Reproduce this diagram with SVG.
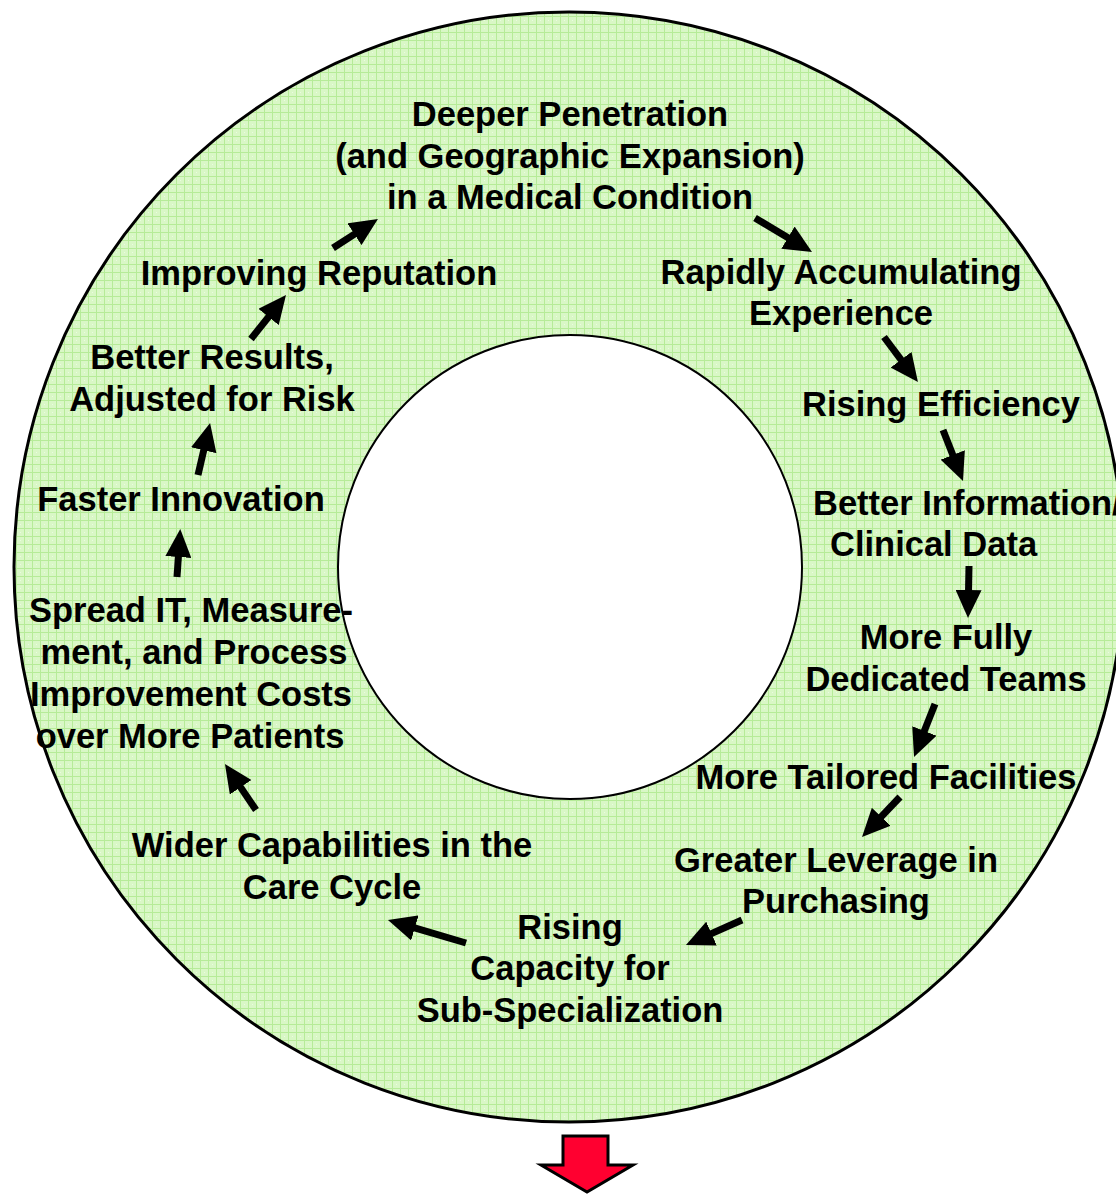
<svg xmlns="http://www.w3.org/2000/svg" width="1116" height="1194" viewBox="0 0 1116 1194">
<defs>
<pattern id="grid" width="8" height="8" patternUnits="userSpaceOnUse">
<rect width="8" height="8" fill="#d9f7c6"/>
<path d="M0,0.5 H8 M0.5,0 V8" stroke="#b6eb98" stroke-width="1" fill="none"/>
<rect x="4" y="4" width="1" height="1" fill="#eafbe0"/>
</pattern>
<marker id="ah" viewBox="0 0 28 26" markerUnits="userSpaceOnUse" markerWidth="28" markerHeight="26" refX="2" refY="13" orient="auto">
<path d="M0,0 L28,13 L0,26 z" fill="#000"/>
</marker>
<style>
text{font-family:"Liberation Sans",Arial,sans-serif;font-weight:bold;font-size:34.5px;fill:#000;text-anchor:middle}
.l{text-anchor:start}
.c{stroke:#000;stroke-width:7;fill:none;marker-end:url(#ah)}
</style>
</defs>
<rect width="1116" height="1194" fill="#fff"/>
<g id="ring">
<circle cx="569" cy="567" r="555" fill="url(#grid)" stroke="#000" stroke-width="3"/>
<circle cx="570" cy="567" r="232" fill="#fff" stroke="#000" stroke-width="2"/>
</g>
<g id="connectors">
<line class="c" x1="333" y1="248" x2="356.1" y2="233.1"/>
<line class="c" x1="755" y1="218" x2="789.7" y2="238.7"/>
<line class="c" x1="884" y1="337" x2="902.3" y2="361.3"/>
<line class="c" x1="943" y1="430" x2="953.5" y2="456.8"/>
<line class="c" x1="969" y1="566" x2="968.5" y2="592"/>
<line class="c" x1="935" y1="704" x2="923.6" y2="732.8"/>
<line class="c" x1="900" y1="797" x2="879.9" y2="818.2"/>
<line class="c" x1="742" y1="920" x2="709.7" y2="934.4"/>
<line class="c" x1="466" y1="943" x2="412.9" y2="927.4"/>
<line class="c" x1="256" y1="810" x2="239.5" y2="785.6"/>
<line class="c" x1="177" y1="577" x2="178.5" y2="555"/>
<line class="c" x1="198" y1="475" x2="204.2" y2="448.3"/>
<line class="c" x1="251" y1="339" x2="269.8" y2="315.4"/>
</g>
<g id="n-deeper"><text x="570" y="126">Deeper Penetration</text><text x="570" y="167.5">(and Geographic Expansion)</text><text x="570" y="209">in a Medical Condition</text></g>
<g id="n-rapidly"><text x="841" y="284">Rapidly Accumulating</text><text x="841" y="325">Experience</text></g>
<g id="n-efficiency"><text x="941" y="416">Rising Efficiency</text></g>
<g id="n-information"><text class="l" x="813" y="515">Better Information/</text><text class="l" x="830" y="556">Clinical Data</text></g>
<g id="n-teams"><text x="946" y="649">More Fully</text><text x="946" y="691">Dedicated Teams</text></g>
<g id="n-facilities"><text x="886" y="789">More Tailored Facilities</text></g>
<g id="n-purchasing"><text x="836" y="872">Greater Leverage in</text><text x="836" y="913">Purchasing</text></g>
<g id="n-subspec"><text x="570" y="939">Rising</text><text x="570" y="980">Capacity for</text><text x="570" y="1022">Sub-Specialization</text></g>
<g id="n-wider"><text x="332" y="857">Wider Capabilities in the</text><text x="332" y="899">Care Cycle</text></g>
<g id="n-spread"><text x="191" y="622">Spread IT, Measure-</text><text x="194" y="664">ment, and Process</text><text x="191" y="706">Improvement Costs</text><text x="190" y="748">over More Patients</text></g>
<g id="n-innovation"><text x="181" y="511">Faster Innovation</text></g>
<g id="n-results"><text x="212" y="369">Better Results,</text><text x="212" y="411">Adjusted for Risk</text></g>
<g id="n-reputation"><text x="319" y="285">Improving Reputation</text></g>
<g id="down-arrow"><polygon points="563,1136 608,1136 608,1165 633,1165 587,1192 541,1165 563,1165" fill="#ff0030" stroke="#000" stroke-width="3" stroke-linejoin="miter"/></g>
</svg>
